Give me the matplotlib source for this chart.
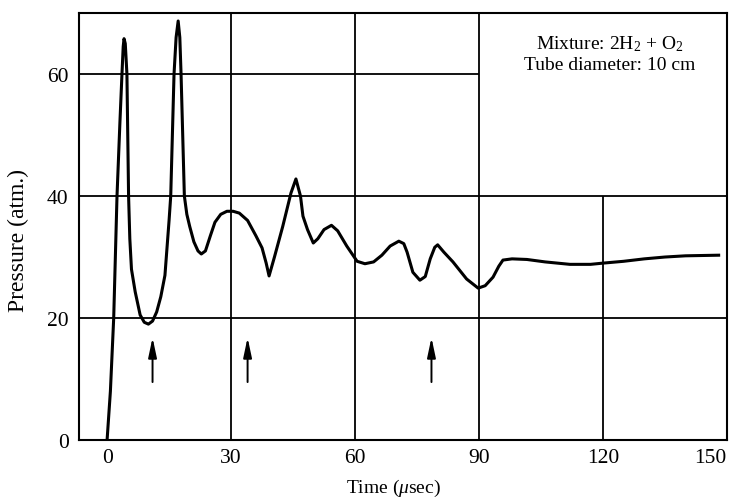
import matplotlib
matplotlib.use('Agg')
import matplotlib.pyplot as plt

plt.rcParams['font.family'] = ['Liberation Serif', 'DejaVu Serif']
plt.rcParams['mathtext.fontset'] = 'custom'
plt.rcParams['mathtext.rm'] = 'Liberation Serif'
plt.rcParams['mathtext.it'] = 'Liberation Serif:italic'

# pressure trace: time (usec), pressure (atm.)
time_us = [0, 0.8, 1.6, 2.4, 3.1, 3.6, 3.9, 4.1, 4.4, 4.8, 5.0, 5.2, 5.5, 5.9,
           6.8, 8.0, 9.0, 10.0, 11.0, 12.0, 13.0, 14.0, 15.0, 15.4, 16.2, 16.7,
           17.2, 17.6, 17.9, 18.7, 19.3, 20.0, 21.0, 22.0, 22.8, 23.8, 25.0,
           26.1, 27.5, 29.0, 30.5, 32.0, 34.0, 36.0, 37.5, 38.5, 39.2, 40.5,
           42.5, 44.5, 45.7, 46.8, 47.4, 48.5, 49.9, 51.0, 52.5, 54.3, 55.8,
           58.0, 60.5, 62.4, 64.5, 66.5, 68.5, 70.6, 71.8, 72.6, 74.0, 75.7,
           77.0, 78.2, 79.3, 80.0, 81.5, 83.7, 87.0, 89.8, 91.5, 93.4, 94.8,
           95.8, 98.0, 101.6, 106.0, 112.0, 117.0, 120.0, 125.0, 130.0, 135.0,
           140.0, 148.0]
pressure = [0, 8, 20, 40, 52, 60, 64.5, 65.8, 65, 60, 50, 40, 33, 28,
            24.3, 20.5, 19.3, 19.0, 19.5, 21, 23.5, 27, 36, 40, 60, 66,
            68.7, 66, 60, 40, 37, 35, 32.5, 31, 30.5, 31, 33.5,
            35.7, 37, 37.5, 37.5, 37.2, 36, 33.5, 31.5, 29, 26.9, 30,
            35, 40.5, 42.8, 40, 36.7, 34.5, 32.3, 33, 34.5, 35.2, 34.3,
            31.8, 29.3, 28.9, 29.2, 30.3, 31.8, 32.6, 32.2, 30.8, 27.5, 26.2,
            26.8, 29.7, 31.6, 32, 30.8, 29.2, 26.4, 24.9, 25.3, 26.7, 28.5,
            29.5, 29.7, 29.6, 29.2, 28.8, 28.8, 29.0, 29.3, 29.7, 30.0,
            30.2, 30.3]

arrow_times = [11.0, 34.0, 78.5]
arrow_tail = 9.5
arrow_head = 16.8

x_ticks = [0, 30, 60, 90, 120, 150]
y_ticks = [0, 20, 40, 60]

fig = plt.figure(figsize=(7.41, 5.02), dpi=100)
ax = fig.add_axes([0.1066, 0.1215, 0.8744, 0.8505])

x_left = -6.8
ax.set_xlim(x_left, 150)
ax.set_ylim(0, 70)

# grid drawn by hand because it is partial in the original
ax.hlines([20, 40], x_left, 150, colors='k', lw=1.3)
ax.hlines(60, x_left, 90, colors='k', lw=1.3)
ax.vlines([30, 60, 90], 0, 70, colors='k', lw=1.3)
ax.vlines(120, 0, 40, colors='k', lw=1.3)

ax.plot(time_us, pressure, color='k', lw=2.2, solid_joinstyle='round')

for t in arrow_times:
    ax.annotate('', xy=(t, arrow_head), xytext=(t, arrow_tail),
                arrowprops=dict(arrowstyle='-|>,head_width=0.18,head_length=0.85',
                                color='k', lw=1.4,
                                mutation_scale=14, shrinkA=0, shrinkB=0))

ax.text(121.7, 65.1, 'Mixture: 2H$_2$ + O$_2$', ha='center', va='center', fontsize=14)
ax.text(121.7, 61.6, 'Tube diameter: 10 cm', ha='center', va='center', fontsize=14)

ax.set_xticks(x_ticks)
ax.set_yticks(y_ticks)
ax.tick_params(length=0, labelsize=15.5)
ax.tick_params(axis='x', pad=6)
ax.tick_params(axis='y', pad=7.5)
ax.get_xticklabels()[-1].set_ha('right')
for s in ax.spines.values():
    s.set_linewidth(1.5)

ax.set_xlabel('Time ($\\mu$sec)', fontsize=14, va='center')
ax.set_ylabel('Pressure (atm.)', fontsize=17, va='center')
ax.xaxis.set_label_coords(0.486, -0.11)
ax.yaxis.set_label_coords(-0.094, 0.47)

fig.savefig('out.png', dpi=100)
